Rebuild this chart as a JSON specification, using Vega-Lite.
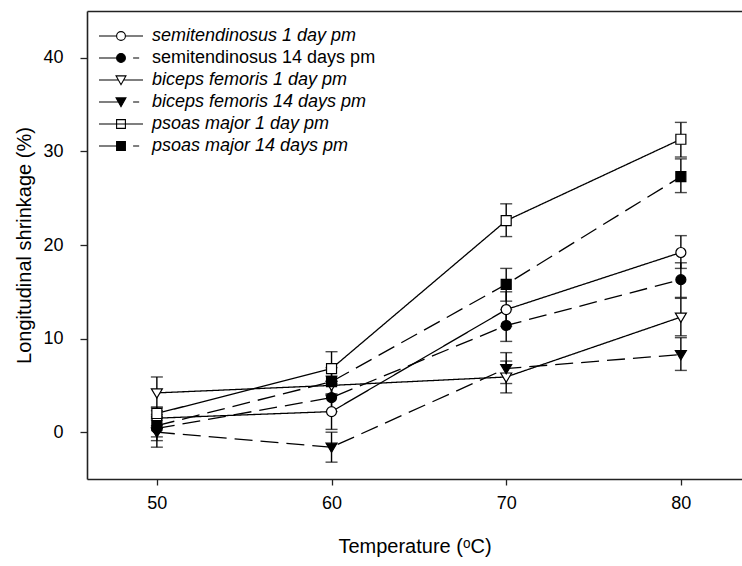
{
  "$schema": "https://vega.github.io/schema/vega-lite/v6.json",
  "width": 655,
  "height": 468,
  "autosize": "none",
  "padding": {"left": 87, "top": 11, "right": 0, "bottom": 87},
  "config": {
    "font": "Liberation Sans",
    "view": {"stroke": null},
    "axis": {"grid": false, "domainColor": "#222", "domainWidth": 1.6, "tickColor": "#222", "tickWidth": 1.3, "labelColor": "black", "titleColor": "black", "titleFontWeight": "normal"}
  },
  "data": {"values": [
    {"temp": 50, "series": "semitendinosus 1 day pm", "muscle": "semitendinosus", "age": "1 day", "mean": 1.5, "lo": 0.7, "hi": 2.3},
    {"temp": 60, "series": "semitendinosus 1 day pm", "muscle": "semitendinosus", "age": "1 day", "mean": 2.2, "lo": 0.3, "hi": 4.1},
    {"temp": 70, "series": "semitendinosus 1 day pm", "muscle": "semitendinosus", "age": "1 day", "mean": 13.1, "lo": 11.3, "hi": 15.0},
    {"temp": 80, "series": "semitendinosus 1 day pm", "muscle": "semitendinosus", "age": "1 day", "mean": 19.2, "lo": 17.5, "hi": 21.0},
    {"temp": 50, "series": "semitendinosus 14 days pm", "muscle": "semitendinosus", "age": "14 days", "mean": 0.4, "lo": -0.9, "hi": 1.7},
    {"temp": 60, "series": "semitendinosus 14 days pm", "muscle": "semitendinosus", "age": "14 days", "mean": 3.7, "lo": 2.2, "hi": 5.2},
    {"temp": 70, "series": "semitendinosus 14 days pm", "muscle": "semitendinosus", "age": "14 days", "mean": 11.4, "lo": 9.7, "hi": 13.1},
    {"temp": 80, "series": "semitendinosus 14 days pm", "muscle": "semitendinosus", "age": "14 days", "mean": 16.3, "lo": 14.4, "hi": 18.1},
    {"temp": 50, "series": "biceps femoris 1 day pm", "muscle": "biceps femoris", "age": "1 day", "mean": 4.2, "lo": 2.6, "hi": 5.9},
    {"temp": 60, "series": "biceps femoris 1 day pm", "muscle": "biceps femoris", "age": "1 day", "mean": 5.0, "lo": 4.0, "hi": 6.0},
    {"temp": 70, "series": "biceps femoris 1 day pm", "muscle": "biceps femoris", "age": "1 day", "mean": 5.9, "lo": 4.2, "hi": 7.6},
    {"temp": 80, "series": "biceps femoris 1 day pm", "muscle": "biceps femoris", "age": "1 day", "mean": 12.3, "lo": 10.3, "hi": 14.3},
    {"temp": 50, "series": "biceps femoris 14 days pm", "muscle": "biceps femoris", "age": "14 days", "mean": 0.0, "lo": -1.6, "hi": 1.5},
    {"temp": 60, "series": "biceps femoris 14 days pm", "muscle": "biceps femoris", "age": "14 days", "mean": -1.6, "lo": -3.2, "hi": 0.0},
    {"temp": 70, "series": "biceps femoris 14 days pm", "muscle": "biceps femoris", "age": "14 days", "mean": 6.8, "lo": 5.2, "hi": 8.5},
    {"temp": 80, "series": "biceps femoris 14 days pm", "muscle": "biceps femoris", "age": "14 days", "mean": 8.3, "lo": 6.6, "hi": 10.1},
    {"temp": 50, "series": "psoas major 1 day pm", "muscle": "psoas major", "age": "1 day", "mean": 2.0, "lo": 1.3, "hi": 2.7},
    {"temp": 60, "series": "psoas major 1 day pm", "muscle": "psoas major", "age": "1 day", "mean": 6.8, "lo": 5.0, "hi": 8.6},
    {"temp": 70, "series": "psoas major 1 day pm", "muscle": "psoas major", "age": "1 day", "mean": 22.6, "lo": 20.9, "hi": 24.4},
    {"temp": 80, "series": "psoas major 1 day pm", "muscle": "psoas major", "age": "1 day", "mean": 31.3, "lo": 29.4, "hi": 33.1},
    {"temp": 50, "series": "psoas major 14 days pm", "muscle": "psoas major", "age": "14 days", "mean": 0.7, "lo": -0.5, "hi": 1.9},
    {"temp": 60, "series": "psoas major 14 days pm", "muscle": "psoas major", "age": "14 days", "mean": 5.4, "lo": 3.9, "hi": 6.9},
    {"temp": 70, "series": "psoas major 14 days pm", "muscle": "psoas major", "age": "14 days", "mean": 15.8, "lo": 14.0, "hi": 17.5},
    {"temp": 80, "series": "psoas major 14 days pm", "muscle": "psoas major", "age": "14 days", "mean": 27.3, "lo": 25.6, "hi": 29.2}
  ]},
  "resolve": {"axis": {"x": "independent"}},
  "layer": [
    {
      "mark": {"type": "line", "color": "black", "strokeWidth": 1.3},
      "encoding": {
        "x": {"field": "temp", "type": "quantitative", "scale": {"domain": [46, 83.5], "nice": false, "zero": false},
          "axis": {"orient": "bottom", "values": [50, 60, 70, 80], "tickSize": 6, "labelFontSize": 18, "labelPadding": 9, "title": "Temperature (ᵒC)", "titleFontSize": 20, "titlePadding": 24}},
        "y": {"field": "mean", "type": "quantitative", "scale": {"domain": [-5, 45], "nice": false, "zero": false},
          "axis": {"values": [0, 10, 20, 30, 40], "tickSize": 7, "labelFontSize": 18, "labelPadding": 17, "title": "Longitudinal shrinkage (%)", "titleFontSize": 20, "titlePadding": 8}},
        "detail": {"field": "series"},
        "strokeDash": {"field": "age", "type": "nominal", "legend": null,
          "scale": {"domain": ["1 day", "14 days"], "range": [[1, 0], [18, 8]]}}
      }
    },
    {
      "mark": {"type": "rule", "color": "black", "strokeWidth": 1.4},
      "encoding": {
        "x": {"field": "temp", "type": "quantitative", "axis": null},
        "y": {"field": "lo", "type": "quantitative"},
        "y2": {"field": "hi"}
      }
    },
    {
      "mark": {"type": "tick", "orient": "horizontal", "color": "black", "size": 12, "thickness": 1.4},
      "encoding": {
        "x": {"field": "temp", "type": "quantitative", "axis": null},
        "y": {"field": "lo", "type": "quantitative"}
      }
    },
    {
      "mark": {"type": "tick", "orient": "horizontal", "color": "black", "size": 12, "thickness": 1.4},
      "encoding": {
        "x": {"field": "temp", "type": "quantitative", "axis": null},
        "y": {"field": "hi", "type": "quantitative"}
      }
    },
    {
      "mark": {"type": "point", "filled": true, "stroke": "black", "strokeWidth": 1.2, "size": 100, "opacity": 1},
      "encoding": {
        "x": {"field": "temp", "type": "quantitative",
          "axis": {"orient": "top", "labels": false, "ticks": false, "title": null, "values": []}},
        "y": {"field": "mean", "type": "quantitative"},
        "shape": {"field": "muscle", "type": "nominal", "legend": null,
          "scale": {"domain": ["semitendinosus", "biceps femoris", "psoas major"],
            "range": ["M1,0A1,1,0,1,1,-1,0A1,1,0,1,1,1,0Z", "M-1.1,-0.8H1.1L0,1.05Z", "M-1,-1H1V1H-1Z"]}},
        "fill": {"field": "series", "type": "nominal",
          "scale": {"domain": ["semitendinosus 1 day pm", "semitendinosus 14 days pm", "biceps femoris 1 day pm", "biceps femoris 14 days pm", "psoas major 1 day pm", "psoas major 14 days pm"],
            "range": ["white", "black", "white", "black", "white", "black"]},
          "legend": {
            "title": null, "orient": "none", "legendX": 25, "legendY": 16, "padding": 0,
            "labelFontSize": 18, "labelColor": "black", "labelLimit": 400, "labelOffset": 22,
            "rowPadding": 4,
            "symbolSize": 121, "symbolStrokeColor": "black", "symbolStrokeWidth": 1.1, "symbolOpacity": 1,
            "labelFontStyle": {"expr": "datum.label == 'semitendinosus 14 days pm' ? 'normal' : 'italic'"},
            "symbolType": {"expr": "datum.value == 'semitendinosus 1 day pm' ? 'M-4,0H-0.8M0.8,0H4M0.8,0A0.8,0.8,0,1,1,-0.8,0A0.8,0.8,0,1,1,0.8,0Z' : datum.value == 'semitendinosus 14 days pm' ? 'M-4,0H-0.8M2.2,0H3.3M0.8,0A0.8,0.8,0,1,1,-0.8,0A0.8,0.8,0,1,1,0.8,0Z' : datum.value == 'biceps femoris 1 day pm' ? 'M-4,0H-0.48M0.48,0H4M-0.9,-0.75H0.9L0,0.85Z' : datum.value == 'biceps femoris 14 days pm' ? 'M-4,0H-0.48M2.2,0H3.3M-0.9,-0.75H0.9L0,0.85Z' : datum.value == 'psoas major 1 day pm' ? 'M-4,0H4M-0.8,-0.8H0.8V0.8H-0.8Z' : 'M-4,0H-0.8M2.2,0H3.3M-0.8,-0.8H0.8V0.8H-0.8Z'"}
          }}
      }
    }
  ]
}
